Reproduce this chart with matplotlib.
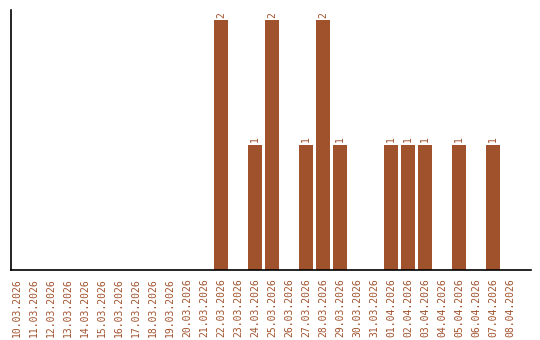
import matplotlib.pyplot as plt

# daty i liczby z wykresu
daty = ["10.03.2026", "11.03.2026", "12.03.2026", "13.03.2026", "14.03.2026",
        "15.03.2026", "16.03.2026", "17.03.2026", "18.03.2026", "19.03.2026",
        "20.03.2026", "21.03.2026", "22.03.2026", "23.03.2026", "24.03.2026",
        "25.03.2026", "26.03.2026", "27.03.2026", "28.03.2026", "29.03.2026",
        "30.03.2026", "31.03.2026", "01.04.2026", "02.04.2026", "03.04.2026",
        "04.04.2026", "05.04.2026", "06.04.2026", "07.04.2026", "08.04.2026"]
wartosci = [0, 0, 0, 0, 0, 0, 0, 0, 0, 0,
            0, 0, 2, 0, 1, 2, 0, 1, 2, 1,
            0, 0, 1, 1, 1, 0, 1, 0, 1, 0]

kolor = "#a0522d"

fig = plt.figure(figsize=(5.4, 3.4), dpi=100)
ax = fig.add_axes([11 / 540, 1 - 270 / 340, 520 / 540, 260 / 340])

x = list(range(len(daty)))
ax.bar(x, wartosci, width=0.82, color=kolor)

for xi, v in zip(x, wartosci):
    if v > 0:
        ax.text(xi, v + 0.02, str(v), rotation=90, ha="center", va="bottom",
                color=kolor, fontsize=7, family="DejaVu Sans Mono")

ax.set_xlim(-0.35, 30.24)
ax.set_ylim(0, 2.08)
ax.set_xticks(x)
ax.set_xticklabels(daty, rotation=90, color=kolor, fontsize=7,
                   family="DejaVu Sans Mono", va="top")
ax.tick_params(axis="x", length=0, pad=6)
ax.set_yticks([])
ax.spines["top"].set_visible(False)
ax.spines["right"].set_visible(False)
ax.spines["left"].set_linewidth(1.2)
ax.spines["bottom"].set_linewidth(1.2)

fig.savefig("out.png", dpi=100)
